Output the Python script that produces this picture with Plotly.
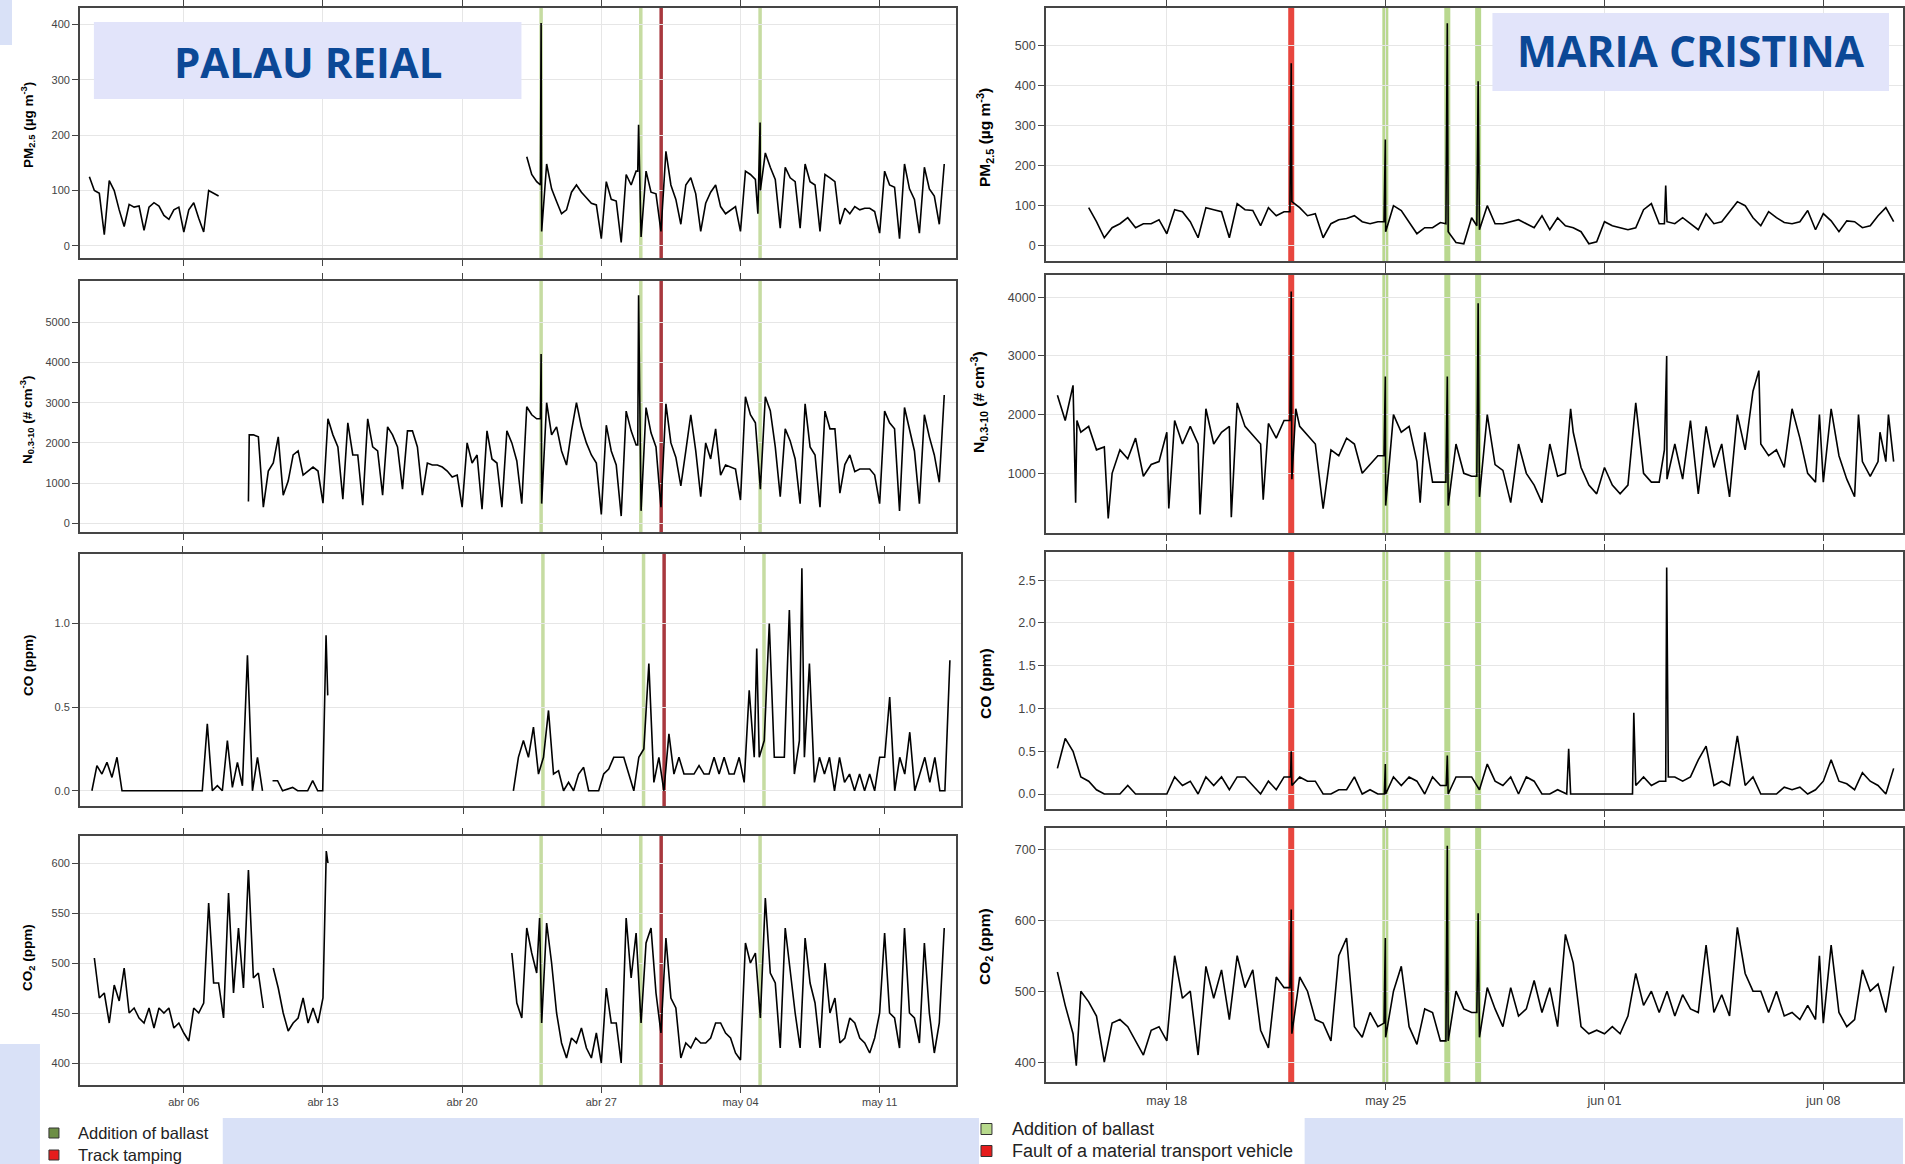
import pandas as pd
import plotly.graph_objects as go

# ---------------- DATA ----------------
# Palau Reial, 6-hourly values (segments start at the given time)
pm_pr_a_start = "2019-04-01 06:00"
pm_pr_a = [125, 100, 95,
           20, 118, 100, 65,
           35, 75, 70, 72,
           28, 70, 78, 72,
           55, 48, 65, 70,
           25, 65, 78, 50,
           25, 100, 95, 90]
pm_pr_b_start = "2019-04-23 06:00"
pm_pr_b = [161, 129, 116,
           26, 148, 103, 80,
           58, 65, 97, 110,
           97, 87, 77, 74,
           13, 116, 84, 81,
           6, 129, 110, 135,
           16, 135, 97, 94,
           26, 171, 110, 84,
           39, 110, 123, 94,
           26, 77, 97, 110,
           71, 58, 65, 71,
           26, 135, 129, 120,
           100, 168, 142, 120,
           32, 142, 123, 116,
           32, 148, 116, 110,
           26, 129, 123, 116,
           39, 68, 58, 71,
           65, 68, 68, 62,
           23, 135, 110, 106,
           13, 148, 103, 84,
           23, 142, 103, 90,
           39, 148]
pm_pr_extra_t = ["2019-04-23 22:30", "2019-04-23 23:20", "2019-04-28 20:00", "2019-04-28 21:00",
                 "2019-05-04 21:00", "2019-05-04 23:40"]
pm_pr_extra_v = [110, 403, 135, 219, 58, 223]

n_pr_start = "2019-04-09 06:00"
n_pr = [540, 2200, 2150,
        400, 1300, 1500, 2150,
        700, 1050, 1700, 1800,
        1200, 1300, 1400, 1300,
        500, 2600, 2200, 1900,
        600, 2500, 1700, 1700,
        450, 2600, 1900, 1800,
        700, 2400, 2200, 1900,
        850, 2300, 2300, 1900,
        700, 1500, 1450, 1450,
        1400, 1300, 1150, 1200,
        400, 2000, 1500, 1700,
        350, 2300, 1600, 1500,
        400, 2300, 2000, 1550,
        490, 2900, 2700, 2600,
        490, 3000, 2200, 2400,
        1800, 1450, 2300, 3000,
        2400, 2000, 1700, 1500,
        220, 2440, 1800, 1450,
        180, 2790, 2300, 1950,
        310, 2880, 2250, 1900,
        400, 2970, 2000, 1640,
        930, 1800, 2700, 1800,
        665, 2000, 1600, 2350,
        1200, 1450, 1400, 1350,
        580, 3150, 2700, 2500,
        850, 3150, 2800, 1900,
        665, 2350, 2050, 1600,
        490, 2970, 1900, 1700,
        400, 2790, 2350, 2350,
        750, 1460, 1700, 1285,
        1350, 1350, 1350, 1200,
        490, 2790, 2500, 2350,
        310, 2880, 2350, 1800,
        490, 2700, 2150, 1700,
        1020, 3190]
n_pr_extra_t = ["2019-04-09 07:00", "2019-04-23 22:30", "2019-04-23 23:20", "2019-04-28 20:00", "2019-04-28 21:00"]
n_pr_extra_v = [2200, 2600, 4210, 1950, 5670]

co_pr_a_start = "2019-04-01 12:00"
co_pr_a = [0.0, 0.15,
           0.1, 0.17, 0.08, 0.2,
           0.0, 0.0, 0.0, 0.0,
           0.0, 0.0, 0.0, 0.0,
           0.0, 0.0, 0.0, 0.0,
           0.0, 0.0, 0.0, 0.0,
           0.0, 0.4, 0.0, 0.03,
           0.0, 0.3, 0.02, 0.17,
           0.03, 0.81, 0.0, 0.2,
           0.0]
co_pr_b_start = "2019-04-10 12:00"
co_pr_b = [0.06, 0.06,
           0.0, 0.01, 0.02, 0.0,
           0.0, 0.0, 0.06, 0.0,
           0.0, 0.57]
co_pr_c_start = "2019-04-22 12:00"
co_pr_c = [0.0, 0.2,
           0.3, 0.2, 0.38, 0.1,
           0.2, 0.48, 0.1, 0.12,
           0.0, 0.05, 0.0, 0.1,
           0.14, 0.0, 0.0, 0.0,
           0.1, 0.13, 0.2, 0.2,
           0.2, 0.1, 0.0, 0.2,
           0.25, 0.76, 0.05, 0.2,
           0.0, 0.34, 0.1, 0.2,
           0.1, 0.1, 0.1, 0.15,
           0.1, 0.1, 0.2, 0.1,
           0.2, 0.1, 0.1, 0.2,
           0.05, 0.6, 0.2, 0.2,
           0.3, 1.0, 0.2, 0.2,
           0.2, 1.08, 0.1, 0.3,
           0.2, 0.76, 0.05, 0.2,
           0.1, 0.2, 0.0, 0.2,
           0.05, 0.1, 0.0, 0.1,
           0.0, 0.1, 0.0, 0.2,
           0.2, 0.56, 0.0, 0.2,
           0.1, 0.35, 0.0, 0.1,
           0.2, 0.05, 0.2, 0.0,
           0.0, 0.78]
co_pr_extra_t = ["2019-04-13 04:00", "2019-05-04 15:00", "2019-05-06 21:00"]
co_pr_extra_v = [0.93, 0.85, 1.33]

co2_pr_a_start = "2019-04-01 12:00"
co2_pr_a = [505, 465,
            470, 440, 478, 462,
            495, 450, 455, 445,
            440, 455, 435, 455,
            450, 455, 435, 440,
            430, 422, 455, 450,
            460, 560, 480, 480,
            445, 570, 470, 535,
            475, 593, 485, 490,
            455]
co2_pr_b_start = "2019-04-10 12:00"
co2_pr_b = [495, 475,
            450, 432, 440, 445,
            465, 440, 455, 440,
            465, 600]
co2_pr_c_start = "2019-04-22 12:00"
co2_pr_c = [510, 460,
            445, 535, 510, 490,
            440, 540, 500, 450,
            420, 405, 425, 420,
            435, 415, 405, 430,
            400, 475, 440, 440,
            400, 545, 485, 530,
            440, 520, 535, 470,
            430, 525, 465, 455,
            405, 420, 415, 425,
            420, 420, 425, 440,
            440, 430, 425, 410,
            403, 520, 500, 510,
            445, 565, 490, 480,
            415, 535, 490, 450,
            415, 525, 480, 460,
            415, 500, 450, 465,
            420, 425, 445, 440,
            425, 420, 410, 425,
            450, 530, 450, 445,
            415, 535, 450, 445,
            420, 520, 450, 410,
            440, 535]
co2_pr_extra_t = ["2019-04-13 04:00", "2019-04-23 21:30"]
co2_pr_extra_v = [612, 545]

# Maria Cristina, 6-hourly values
pm_mc_start = "2019-05-15 12:00"
pm_mc = [95, 60,
         20, 45, 55, 70,
         45, 55, 55, 65,
         30, 90, 85, 60,
         20, 95, 90, 85,
         20, 105, 90, 88,
         50, 95, 75, 85,
         110, 95, 75, 80,
         20, 55, 65, 68,
         75, 60, 55, 60,
         35, 100, 88, 60,
         30, 45, 45, 58,
         35, 8, 5, 70,
         40, 100, 55, 55,
         60, 65, 55, 45,
         75, 40, 70, 50,
         45, 35, 5, 10,
         60, 50, 45, 40,
         45, 90, 105, 55,
         60, 55, 70, 55,
         40, 80, 55, 60,
         85, 110, 100, 70,
         50, 85, 70, 58,
         55, 60, 88, 40,
         80, 62, 35, 62,
         60, 45, 50, 75,
         95, 60]
pm_mc_extra_t = ["2019-05-21 22:30", "2019-05-21 23:30", "2019-05-24 22:45", "2019-05-24 23:45",
                 "2019-05-26 22:15", "2019-05-26 23:20", "2019-05-27 22:00", "2019-05-27 23:00",
                 "2019-06-02 22:00", "2019-06-02 23:00"]
pm_mc_extra_v = [85, 455, 60, 265, 55, 555, 50, 410, 55, 150]

n_mc_start = "2019-05-14 12:00"
n_mc = [2330, 1900,
        2500, 1700, 1800, 1400,
        1450, 1000, 1400, 1250,
        1600, 950, 1150, 1200,
        1700, 1900, 1500, 1800,
        1500, 2100, 1500, 1700,
        1800, 2200, 1800, 1650,
        1500, 1850, 1600, 1900,
        900, 1800, 1650, 1500,
        400, 1400, 1300, 1600,
        1500, 1000, 1150, 1300,
        450, 2000, 1700, 1800,
        1200, 1700, 850, 850,
        450, 1500, 1000, 950,
        600, 2000, 1150, 1050,
        500, 1500, 1000, 800,
        500, 1500, 950, 1000,
        1700, 1100, 800, 650,
        1100, 800, 650, 800,
        2200, 1000, 850, 850,
        900, 1500, 900, 1900,
        650, 1800, 1100, 1500,
        600, 2000, 1400, 2400,
        1500, 1300, 1400, 1100,
        2100, 1600, 1000, 850,
        850, 2100, 1300, 900,
        600, 1200, 950, 1200,
        1200, 1200]
n_mc_extra_t = ["2019-05-15 02:00", "2019-05-15 03:00", "2019-05-16 03:00", "2019-05-18 01:30",
                "2019-05-19 01:30", "2019-05-20 01:30", "2019-05-21 02:00", "2019-05-21 22:30",
                "2019-05-21 23:30", "2019-05-22 03:00", "2019-05-24 22:45", "2019-05-24 23:45",
                "2019-05-26 02:30", "2019-05-26 22:15", "2019-05-26 23:20", "2019-05-27 22:00",
                "2019-05-27 23:00", "2019-05-30 22:00", "2019-06-02 22:00", "2019-06-02 23:45",
                "2019-06-05 22:30", "2019-06-07 21:00", "2019-06-09 03:00", "2019-06-09 19:30",
                "2019-06-10 02:00"]
n_mc_extra_v = [500, 1900, 230, 400, 300, 250, 550, 1900, 4100, 2100, 1300, 2650, 500, 850, 2650,
                950, 3900, 2100, 1400, 3000, 2750, 2000, 2000, 1700, 2000]

co_mc_start = "2019-05-14 12:00"
co_mc = [0.3, 0.65,
         0.5, 0.2, 0.15, 0.05,
         0.0, 0.0, 0.0, 0.1,
         0.0, 0.0, 0.0, 0.0,
         0.0, 0.2, 0.1, 0.15,
         0.0, 0.2, 0.1, 0.2,
         0.05, 0.2, 0.2, 0.1,
         0.0, 0.15, 0.05, 0.2,
         0.1, 0.2, 0.15, 0.15,
         0.0, 0.0, 0.05, 0.05,
         0.2, 0.0, 0.05, 0.0,
         0.0, 0.2, 0.1, 0.2,
         0.15, 0.0, 0.2, 0.1,
         0.0, 0.2, 0.2, 0.2,
         0.05, 0.35, 0.15, 0.1,
         0.2, 0.0, 0.2, 0.15,
         0.0, 0.0, 0.05, 0.0,
         0.0, 0.0, 0.0, 0.0,
         0.0, 0.0, 0.0, 0.0,
         0.1, 0.2, 0.1, 0.15,
         1.8, 0.2, 0.15, 0.2,
         0.4, 0.56, 0.1, 0.15,
         0.1, 0.68, 0.1, 0.2,
         0.0, 0.0, 0.0, 0.08,
         0.05, 0.08, 0.0, 0.05,
         0.15, 0.4, 0.15, 0.12,
         0.05, 0.25, 0.15, 0.1,
         0.0, 0.3]
co_mc_extra_t = ["2019-05-21 23:00", "2019-05-21 23:30", "2019-05-24 23:00", "2019-05-24 23:45",
                 "2019-05-26 22:30", "2019-05-26 23:20", "2019-05-30 19:00", "2019-05-30 20:30",
                 "2019-05-30 22:00", "2019-06-01 21:30", "2019-06-01 22:30", "2019-06-01 23:30",
                 "2019-06-02 23:00", "2019-06-02 23:45", "2019-06-03 01:00"]
co_mc_extra_v = [0.2, 0.5, 0.0, 0.35, 0.1, 0.45, 0.0, 0.53, 0.0, 0.0, 0.95, 0.1, 0.15, 2.65, 0.2]

co2_mc_start = "2019-05-14 12:00"
co2_mc = [527, 480,
          440, 500, 485, 465,
          400, 455, 460, 450,
          430, 410, 445, 450,
          430, 550, 490, 500,
          410, 535, 490, 530,
          460, 550, 505, 530,
          445, 420, 520, 505,
          440, 520, 500, 460,
          455, 430, 550, 575,
          450, 435, 470, 450,
          435, 500, 535, 450,
          425, 475, 470, 430,
          430, 500, 475, 470,
          435, 505, 475, 450,
          505, 465, 475, 515,
          470, 505, 450, 580,
          540, 450, 440, 445,
          440, 450, 440, 465,
          525, 480, 500, 470,
          500, 465, 495, 475,
          470, 565, 470, 495,
          465, 590, 525, 500,
          500, 470, 500, 465,
          470, 460, 480, 460,
          455, 565, 470, 450,
          460, 530, 500, 510,
          470, 535]
co2_mc_extra_t = ["2019-05-15 02:30", "2019-05-21 22:30", "2019-05-21 23:30", "2019-05-24 22:45",
                  "2019-05-24 23:45", "2019-05-26 22:15", "2019-05-26 23:20", "2019-05-27 22:00",
                  "2019-05-27 23:00", "2019-06-07 21:00"]
co2_mc_extra_v = [395, 505, 615, 455, 575, 430, 705, 470, 610, 550]

# Events
pr_ballast = ["2019-04-23 23:20", "2019-04-28 23:40", "2019-05-04 23:40"]
pr_tamping = ["2019-04-30 00:15"]
mc_ballast = ["2019-05-24 23:45", "2019-05-26 23:20", "2019-05-27 23:00"]
mc_fault = ["2019-05-21 23:30"]

pr_ticks = ["2019-04-06", "2019-04-13", "2019-04-20", "2019-04-27", "2019-05-04", "2019-05-11"]
pr_ticktext = ["abr 06", "abr 13", "abr 20", "abr 27", "may 04", "may 11"]
mc_ticks = ["2019-05-18", "2019-05-25", "2019-06-01", "2019-06-08"]
mc_ticktext = ["may 18", "may 25", "jun 01", "jun 08"]

# ---------------- BUILD ----------------
W, H = 1905, 1164


def build(segments, extra_t, extra_v):
    ex = pd.Series(extra_v, index=pd.to_datetime(extra_t), dtype=float)
    xs, ys = [], []
    for start, vals in segments:
        idx = pd.date_range(start, periods=len(vals), freq="6h")
        s = pd.Series(vals, index=idx, dtype=float)
        e = ex[(ex.index > idx[0]) & (ex.index < idx[-1])]
        s = pd.concat([s, e]).sort_index()
        xs += list(s.index) + [s.index[-1] + pd.Timedelta(hours=1)]
        ys += list(s.values) + [None]
    return xs, ys


def xd(a, b):
    return [a / W, min(b / W, 1.0)]


def yd(top, bottom):
    return [1 - bottom / H, 1 - top / H]


L_RANGE = ["2019-03-31 18:35", "2019-05-14 20:10"]
L3_RANGE = ["2019-03-31 21:40", "2019-05-14 19:15"]
R_RANGE = ["2019-05-14 03:10", "2019-06-10 13:10"]

panels = [
    dict(data=build([(pm_pr_a_start, pm_pr_a), (pm_pr_b_start, pm_pr_b)], pm_pr_extra_t, pm_pr_extra_v),
         xdom=(80, 957), ydom=(8, 258), xr=L_RANGE, yr=[-22, 430],
         yt=[0, 100, 200, 300, 400], ytt=["0", "100", "200", "300", "400"], side="L", bottom=False),
    dict(data=build([(n_pr_start, n_pr)], n_pr_extra_t, n_pr_extra_v),
         xdom=(80, 957), ydom=(281, 532), xr=L_RANGE, yr=[-216, 6027],
         yt=[0, 1000, 2000, 3000, 4000, 5000], ytt=["0", "1000", "2000", "3000", "4000", "5000"], side="L", bottom=False),
    dict(data=build([(co_pr_a_start, co_pr_a), (co_pr_b_start, co_pr_b), (co_pr_c_start, co_pr_c)], co_pr_extra_t, co_pr_extra_v),
         xdom=(80, 962), ydom=(554, 806), xr=L3_RANGE, yr=[-0.091, 1.415],
         yt=[0, 0.5, 1.0], ytt=["0.0", "0.5", "1.0"], side="L", bottom=False),
    dict(data=build([(co2_pr_a_start, co2_pr_a), (co2_pr_b_start, co2_pr_b), (co2_pr_c_start, co2_pr_c)], co2_pr_extra_t, co2_pr_extra_v),
         xdom=(80, 957), ydom=(836, 1085), xr=L_RANGE, yr=[378, 627],
         yt=[400, 450, 500, 550, 600], ytt=["400", "450", "500", "550", "600"], side="L", bottom=True),
    dict(data=build([(pm_mc_start, pm_mc)], pm_mc_extra_t, pm_mc_extra_v),
         xdom=(1047, 1905), ydom=(8, 261), xr=R_RANGE, yr=[-38, 593],
         yt=[0, 100, 200, 300, 400, 500], ytt=["0", "100", "200", "300", "400", "500"], side="R", bottom=False),
    dict(data=build([(n_mc_start, n_mc)], n_mc_extra_t, n_mc_extra_v),
         xdom=(1047, 1905), ydom=(275, 533), xr=R_RANGE, yr=[-17, 4380],
         yt=[1000, 2000, 3000, 4000], ytt=["1000", "2000", "3000", "4000"], side="R", bottom=False),
    dict(data=build([(co_mc_start, co_mc)], co_mc_extra_t, co_mc_extra_v),
         xdom=(1047, 1905), ydom=(552, 809), xr=R_RANGE, yr=[-0.175, 2.83],
         yt=[0, 0.5, 1.0, 1.5, 2.0, 2.5], ytt=["0.0", "0.5", "1.0", "1.5", "2.0", "2.5"], side="R", bottom=False),
    dict(data=build([(co2_mc_start, co2_mc)], co2_mc_extra_t, co2_mc_extra_v),
         xdom=(1047, 1905), ydom=(828, 1082), xr=R_RANGE, yr=[372, 730],
         yt=[400, 500, 600, 700], ytt=["400", "500", "600", "700"], side="R", bottom=True),
]

fig = go.Figure()
layout = dict(width=W, height=H, margin=dict(l=0, r=0, t=0, b=0),
              paper_bgcolor="white", plot_bgcolor="white", showlegend=False)
shapes = []
annotations = []
TICKFONT = "Liberation Sans Narrow, Liberation Sans, Arial"
AXC = "#454545"

for i, p in enumerate(panels, start=1):
    xs, ys = p["data"]
    xa = "x" if i == 1 else f"x{i}"
    ya = "y" if i == 1 else f"y{i}"
    fig.add_trace(go.Scatter(x=xs, y=ys, mode="lines", xaxis=xa, yaxis=ya,
                             line=dict(color="black", width=1.6), connectgaps=False,
                             hoverinfo="skip"))
    fs = 11 if p["side"] == "L" else 12.5
    layout["xaxis" if i == 1 else f"xaxis{i}"] = dict(
        domain=xd(*p["xdom"]), anchor=ya, type="date", range=p["xr"],
        tickvals=pr_ticks if p["side"] == "L" else mc_ticks,
        ticktext=pr_ticktext if p["side"] == "L" else mc_ticktext,
        showticklabels=p["bottom"], ticks="outside", ticklen=6, tickcolor=AXC,
        showline=True, linecolor=AXC, linewidth=1.6, mirror="allticks",
        showgrid=True, gridcolor="#e6e6e6", gridwidth=1, zeroline=False,
        tickfont=dict(family=TICKFONT, size=fs, color="#444"), fixedrange=True)
    layout["yaxis" if i == 1 else f"yaxis{i}"] = dict(
        domain=yd(*p["ydom"]), anchor=xa, range=p["yr"],
        tickvals=p["yt"], ticktext=p["ytt"], ticks="outside", ticklen=6, tickcolor=AXC,
        showline=True, linecolor=AXC, linewidth=1.6, mirror=True,
        showgrid=True, gridcolor="#e6e6e6", gridwidth=1, zeroline=False,
        tickfont=dict(family=TICKFONT, size=fs, color="#444"), fixedrange=True)
    # event lines
    if p["side"] == "L":
        ev = [(t, "#c6dca2", 3.5) for t in pr_ballast] + [(t, "#a8383e", 3.5) for t in pr_tamping]
    else:
        ev = [(t, "#b9d88f", 6) for t in mc_ballast] + [(t, "#e8463e", 6) for t in mc_fault]
    for t, c, w in ev:
        shapes.append(dict(type="line", xref=xa, yref=f"{ya} domain", x0=t, x1=t, y0=0, y1=1,
                           line=dict(color=c, width=w), layer="below"))

# axis titles
titles = [
    ("<b>PM<sub>2.5</sub> (µg m<sup>-3</sup>)</b>", 28, 125, 13.5),
    ("<b>N<sub>0.3-10</sub> (# cm<sup>-3</sup>)</b>", 27, 420, 13.5),
    ("<b>CO (ppm)</b>", 28, 665, 13.5),
    ("<b>CO<sub>2</sub> (ppm)</b>", 28, 957, 13.5),
    ("<b>PM<sub>2.5</sub> (µg m<sup>-3</sup>)</b>", 986, 137, 15.5),
    ("<b>N<sub>0.3-10</sub> (# cm<sup>-3</sup>)</b>", 980, 402, 15.5),
    ("<b>CO (ppm)</b>", 986, 683, 15.5),
    ("<b>CO<sub>2</sub> (ppm)</b>", 986, 946, 15.5),
]
for txt, x, y, s in titles:
    annotations.append(dict(text=txt, x=x / W, y=1 - y / H, xref="paper", yref="paper",
                            showarrow=False, textangle=-90, xanchor="center", yanchor="middle",
                            font=dict(family="Liberation Sans, Arial", size=s, color="black")))

# decorative background panels
LAV = "#d9e1f7"
for x0, y0, x1, y1 in [(0, 0, 12, 45), (0, 1044, 40, 1164), (223, 1118, 980, 1164), (1306, 1118, 1905, 1164)]:
    shapes.append(dict(type="rect", xref="paper", yref="paper", x0=x0 / W, x1=x1 / W,
                       y0=1 - y1 / H, y1=1 - y0 / H, fillcolor=LAV, line=dict(width=0), layer="above"))

# station title boxes
for x0, y0, x1, y1 in [(94, 22, 522, 99), (1494, 13, 1891, 91)]:
    shapes.append(dict(type="rect", xref="paper", yref="paper", x0=x0 / W, x1=x1 / W,
                       y0=1 - y1 / H, y1=1 - y0 / H, fillcolor="#e2e4fa", line=dict(width=0), layer="above"))
annotations.append(dict(text="<b>PALAU REIAL</b>", x=309 / W, y=1 - 61 / H, xref="paper", yref="paper",
                        showarrow=False, xanchor="center", yanchor="middle",
                        font=dict(family="Open Sans", size=42, color="#0b4896")))
annotations.append(dict(text="<b>MARIA CRISTINA</b>", x=1693 / W, y=1 - 51 / H, xref="paper", yref="paper",
                        showarrow=False, xanchor="center", yanchor="middle",
                        font=dict(family="Open Sans", size=42.5, color="#0b4896")))

# legends
legend_items = [
    (49, 1133, 10, "#6d8e45", "Addition of ballast", 76, 16.5),
    (49, 1155, 10, "#e61c1c", "Track tamping", 76, 16.5),
    (982, 1129, 11, "#b7d98c", "Addition of ballast", 1011, 18),
    (982, 1151, 11, "#e61c1c", "Fault of a material transport vehicle", 1011, 18),
]
for sx, cy, sz, col, txt, tx, fs in legend_items:
    shapes.append(dict(type="rect", xref="paper", yref="paper", x0=sx / W, x1=(sx + sz) / W,
                       y0=1 - (cy + sz / 2) / H, y1=1 - (cy - sz / 2) / H,
                       fillcolor=col, line=dict(color="#333", width=1), layer="above"))
    annotations.append(dict(text=txt, x=tx / W, y=1 - cy / H, xref="paper", yref="paper",
                            showarrow=False, xanchor="left", yanchor="middle",
                            font=dict(family="Liberation Sans Narrow, Liberation Sans, Arial", size=fs, color="#222")))

layout["shapes"] = shapes
layout["annotations"] = annotations
fig.update_layout(**layout)
fig.write_html("out.html", config={"displayModeBar": False})
